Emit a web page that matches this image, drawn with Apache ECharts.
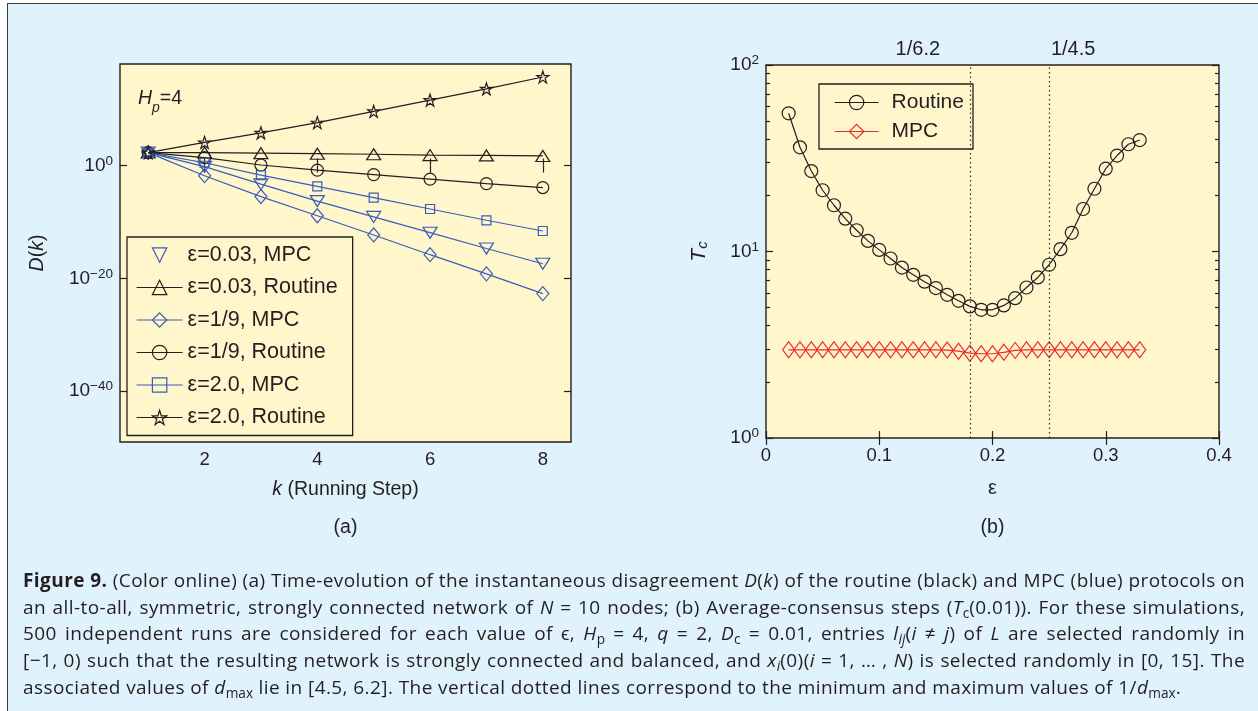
<!DOCTYPE html>
<html><head><meta charset="utf-8">
<script src="https://cdn.jsdelivr.net/npm/echarts@6/dist/echarts.min.js"></script>
<style>
html,body{margin:0;padding:0;width:1258px;height:711px;overflow:hidden;background:#fff;}
#panel{position:absolute;left:7px;top:3px;width:1270px;height:730px;background:#e0f2fb;border-left:1.5px solid #3a3a3a;border-top:1.5px solid #3a3a3a;}
#chart{position:absolute;left:0;top:0;width:1258px;height:711px;}
#caption{position:absolute;left:23px;top:567px;width:1222px;font-family:'Open Sans',sans-serif;font-size:19px;letter-spacing:0.42px;line-height:26.7px;color:#231f20;}
.ln{white-space:nowrap;text-align:justify;text-align-last:justify;}
.ln.last{text-align-last:left;}
sub{font-size:0.72em;line-height:0;vertical-align:-0.3em;letter-spacing:0;}
</style></head>
<body>
<div id="panel"></div>
<div id="chart"></div>
<div id="caption">
<div class="ln"><b>Figure 9.</b> (Color online) (a) Time-evolution of the instantaneous disagreement <i>D</i>(<i>k</i>) of the routine (black) and MPC (blue) protocols on</div>
<div class="ln">an all-to-all, symmetric, strongly connected network of <i>N</i> = 10 nodes; (b) Average-consensus steps (<i>T</i><sub>c</sub>(0.01)). For these simulations,</div>
<div class="ln">500 independent runs are considered for each value of ϵ, <i>H</i><sub>p</sub> = 4, <i>q</i> = 2, <i>D</i><sub>c</sub> = 0.01, entries <i>l</i><sub><i>ij</i></sub>(<i>i</i> ≠ <i>j</i>) of <i>L</i> are selected randomly in</div>
<div class="ln">[−1, 0) such that the resulting network is strongly connected and balanced, and <i>x</i><sub><i>i</i></sub>(0)(<i>i</i> = 1, … , <i>N</i>) is selected randomly in [0, 15]. The</div>
<div class="ln last">associated values of <i>d</i><sub>max</sub> lie in [4.5, 6.2]. The vertical dotted lines correspond to the minimum and maximum values of 1/<i>d</i><sub>max</sub>.</div>
</div>
<script>
// ---------- data: panel (a), exponents of D(k) (log10) ----------
const kSteps = [1, 2, 3, 4, 5, 6, 7, 8];
const logD_e003_MPC = [2.3, -0.2, -3.3, -6.3, -9.1, -11.9, -14.7, -17.4];
const logD_e003_Routine = [2.3, 2.3, 2.2, 2.1, 2.0, 1.85, 1.8, 1.7];
const logD_e19_MPC = [2.3, -1.8, -5.5, -8.9, -12.3, -15.8, -19.2, -22.7];
const logD_e19_Routine = [2.3, 1.4, 0.1, -0.8, -1.6, -2.4, -3.2, -3.9];
const logD_e2_MPC = [2.3, 0.5, -1.7, -3.7, -5.7, -7.7, -9.7, -11.6];
const logD_e2_Routine = [2.3, 4.1, 5.8, 7.6, 9.6, 11.6, 13.6, 15.7];
const leftXTicks = [2, 4, 6, 8];
const leftYTicks = [0, -20, -40];

// ---------- data: panel (b) ----------
const epsValues = [0.02, 0.03, 0.04, 0.05, 0.06, 0.07, 0.08, 0.09, 0.10, 0.11, 0.12, 0.13, 0.14, 0.15, 0.16, 0.17,
  0.18, 0.19, 0.20, 0.21, 0.22, 0.23, 0.24, 0.25, 0.26, 0.27, 0.28, 0.29, 0.30, 0.31, 0.32, 0.33];
const tcRoutine = [55.1, 36.2, 27.0, 21.3, 17.7, 15.0, 13.0, 11.4, 10.2, 9.17, 8.2, 7.5, 6.89, 6.37, 5.86, 5.44,
  5.08, 4.87, 4.87, 5.14, 5.62, 6.41, 7.26, 8.49, 10.3, 12.6, 16.9, 21.7, 27.8, 32.7, 37.6, 39.6];
const tcMPC = [2.97, 2.97, 2.97, 2.97, 2.97, 2.97, 2.97, 2.97, 2.97, 2.97, 2.97, 2.97, 2.97, 2.97, 2.96, 2.92,
  2.85, 2.83, 2.83, 2.88, 2.95, 2.97, 2.97, 2.97, 2.97, 2.97, 2.97, 2.97, 2.97, 2.97, 2.97, 2.97];
const dottedEps = [0.183, 0.252];
const dottedLabels = ['1/6.2', '1/4.5'];
const rightXTicks = [0, 0.1, 0.2, 0.3, 0.4];
const rightYMajor = [1, 10, 100];
const rightYMinor = [2, 3, 4, 5, 6, 7, 8, 9, 20, 30, 40, 50, 60, 70, 80, 90];

// ---------- styling ----------
const BLUE = '#3a5db8', BLACK = '#231f20', RED = '#ee2b2b';
const FONT = 'Liberation Sans';
const STAR = 'path://M0,-1000L224,-309L951,-309L363,118L588,809L0,382L-588,809L-363,118L-951,-309L-224,-309Z';
const leftDefs = [
  {name: 'ε=0.03, MPC', data: logD_e003_MPC, color: BLUE, symbol: 'triangle', size: [14, 11], rotate: 180, noLine: true},
  {name: 'ε=0.03, Routine', data: logD_e003_Routine, color: BLACK, symbol: 'triangle', size: [14, 11], rotate: 0},
  {name: 'ε=1/9, MPC', data: logD_e19_MPC, color: BLUE, symbol: 'diamond', size: [12, 14], rotate: 0},
  {name: 'ε=1/9, Routine', data: logD_e19_Routine, color: BLACK, symbol: 'circle', size: 12, rotate: 0},
  {name: 'ε=2.0, MPC', data: logD_e2_MPC, color: BLUE, symbol: 'rect', size: 9, rotate: 0},
  {name: 'ε=2.0, Routine', data: logD_e2_Routine, color: BLACK, symbol: STAR, size: 12, rotate: 0}
];
const rightDefs = [
  {name: 'Routine', data: tcRoutine, color: BLACK, symbol: 'circle', size: 13},
  {name: 'MPC', data: tcMPC, color: RED, symbol: 'diamond', size: [12, 16]}
];

const TR = 'rgba(0,0,0,0)';
const tickStyle = {color: BLACK, width: 1.2};
const supRich = {
  b: {fontFamily: FONT, fontSize: 19, color: BLACK},
  s: {fontFamily: FONT, fontSize: 13.5, color: BLACK, padding: [0, 0, 9, 0]}
};

function xAx(grid, min, max, pos, ticks, show, extra) {
  return Object.assign({
    gridIndex: grid, type: 'value', min: min, max: max, position: pos,
    axisLine: {show: false}, splitLine: {show: false},
    axisTick: {show: true, inside: true, length: 7, customValues: ticks, lineStyle: tickStyle},
    axisLabel: {show: show, customValues: ticks, margin: 8, fontSize: 18.5, color: BLACK, fontFamily: FONT}
  }, extra || {});
}
function yAx(grid, min, max, pos, ticks, len, labelOpt, extra) {
  return Object.assign({
    gridIndex: grid, type: 'value', min: min, max: max, position: pos,
    axisLine: {show: false}, splitLine: {show: false},
    axisTick: {show: true, inside: true, length: len, customValues: ticks, lineStyle: tickStyle},
    axisLabel: labelOpt ? Object.assign({customValues: ticks, margin: 7, rich: supRich}, labelOpt) : {show: false}
  }, extra || {});
}

const leftFmt = v => '{b|10}{s|' + (v === 0 ? '0' : '−' + Math.abs(v)) + '}';
const rightFmt = v => '{b|10}{s|' + Math.round(v) + '}';
const majorLog = rightYMajor.map(v => Math.log10(v));
const minorLog = rightYMinor.map(v => Math.log10(v));

const series = [];
leftDefs.forEach(d => {
  series.push({
    type: 'line', name: d.name, xAxisIndex: 0, yAxisIndex: 0,
    data: kSteps.map((k, i) => [k, d.data[i]]),
    symbol: d.symbol, symbolSize: d.size, symbolRotate: d.rotate, showAllSymbol: true,
    lineStyle: {color: d.color, width: 1.2},
    itemStyle: {color: TR, borderColor: d.color, borderWidth: 1.2},
    emphasis: {disabled: true}, animation: false
  });
});
rightDefs.forEach((d, idx) => {
  const s = {
    type: 'line', name: d.name, xAxisIndex: 2, yAxisIndex: 2,
    data: epsValues.map((e, i) => [e, Math.log10(d.data[i])]),
    symbol: d.symbol, symbolSize: d.size, showAllSymbol: true,
    lineStyle: {color: d.color, width: 1.2},
    itemStyle: {color: TR, borderColor: d.color, borderWidth: 1.2},
    emphasis: {disabled: true}, animation: false
  };
  if (idx === 0) {
    s.markLine = {
      silent: true, symbol: 'none', animation: false,
      lineStyle: {color: '#333', width: 1.2, type: [1.5, 3]},
      label: {show: true, position: 'end', formatter: '{b}', fontSize: 20, color: BLACK, fontFamily: FONT, distance: 6},
      data: dottedEps.map((x, i) => ({xAxis: x, name: dottedLabels[i], label: {offset: [i === 0 ? -52 : 24, 0]}}))
    };
  }
  series.push(s);
});

const option = {
  animation: false,
  textStyle: {fontFamily: FONT, color: BLACK},
  grid: [
    {left: 120, top: 64, width: 451, height: 378, show: true, backgroundColor: '#fff6cc', borderColor: BLACK, borderWidth: 1.4},
    {left: 766, top: 65, width: 453, height: 373, show: true, backgroundColor: '#fff6cc', borderColor: BLACK, borderWidth: 1.4}
  ],
  xAxis: [
    xAx(0, 0.5, 8.5, 'bottom', leftXTicks, true, {
      name: '{i|k} (Running Step)', nameLocation: 'middle', nameGap: 38,
      nameTextStyle: {fontSize: 19.5, color: BLACK, fontFamily: FONT, rich: {i: {fontStyle: 'italic', fontSize: 19.5, fontFamily: FONT, color: BLACK}}}
    }),
    xAx(0, 0.5, 8.5, 'top', leftXTicks, false),
    xAx(1, 0, 0.4, 'bottom', rightXTicks, true, {
      name: 'ε', nameLocation: 'middle', nameGap: 40,
      nameTextStyle: {fontSize: 20, color: BLACK, fontFamily: FONT},
      axisLabel: {customValues: rightXTicks, margin: 8, fontSize: 18.5, color: BLACK, fontFamily: FONT,
        formatter: v => (v === 0 ? '0' : v.toFixed(1))}
    }),
    xAx(1, 0, 0.4, 'top', rightXTicks, false)
  ],
  yAxis: [
    yAx(0, -49, 18, 'left', leftYTicks, 7, {formatter: leftFmt}, {
      name: '{i|D}({i|k})', nameLocation: 'middle', nameGap: 72,
      nameTextStyle: {fontSize: 19.5, color: BLACK, fontFamily: FONT, rich: {i: {fontStyle: 'italic', fontSize: 19.5, fontFamily: FONT, color: BLACK}}}
    }),
    yAx(0, -49, 18, 'right', leftYTicks, 7, null),
    yAx(1, 0, 2, 'left', majorLog, 7, {formatter: rightFmt}, {
      name: '{t|T}{c|c}', nameLocation: 'middle', nameGap: 50,
      nameTextStyle: {rich: {
        t: {fontStyle: 'italic', fontSize: 21, fontFamily: FONT, color: BLACK, padding: [0, 0, 6, 0]},
        c: {fontStyle: 'italic', fontSize: 15, fontFamily: FONT, color: BLACK}
      }}
    }),
    yAx(1, 0, 2, 'left', minorLog, 4, null),
    yAx(1, 0, 2, 'right', majorLog, 7, null),
    yAx(1, 0, 2, 'right', minorLog, 4, null)
  ],
  legend: [
    {
      orient: 'vertical', left: 127, top: 237, padding: [7, 15, 7, 9],
      itemWidth: 46, itemHeight: 18, itemGap: 10.5,
      backgroundColor: '#fff6cc', borderColor: BLACK, borderWidth: 1.3, borderRadius: 0,
      textStyle: {fontSize: 21.5, color: BLACK, fontFamily: FONT, lineHeight: 20},
      selectedMode: false,
      data: leftDefs.map(d => ({
        name: d.name,
        itemStyle: {color: TR, borderColor: d.color, borderWidth: 1.2},
        lineStyle: {color: d.noLine ? TR : d.color, width: 1.2}
      }))
    },
    {
      orient: 'vertical', left: 819, top: 84, padding: [8, 9, 7, 15],
      itemWidth: 44, itemHeight: 18, itemGap: 8,
      backgroundColor: '#fff6cc', borderColor: BLACK, borderWidth: 1.3, borderRadius: 0,
      textStyle: {fontSize: 21, color: BLACK, fontFamily: FONT, lineHeight: 20, padding: [0, 0, 0, 8]},
      selectedMode: false,
      data: rightDefs.map(d => ({
        name: d.name,
        itemStyle: {color: TR, borderColor: d.color, borderWidth: 1.2},
        lineStyle: {color: d.color, width: 1.2}
      }))
    }
  ],
  graphic: [
    {type: 'text', left: 138, top: 89, style: {text: '{i|H}{p|p}{n|=4}', rich: {
      i: {fontStyle: 'italic', fontSize: 19.5, fontFamily: FONT, fill: BLACK, padding: [0, 0, 6, 0], verticalAlign: 'bottom'},
      p: {fontStyle: 'italic', fontSize: 14, fontFamily: FONT, fill: BLACK, verticalAlign: 'bottom'},
      n: {fontSize: 19.5, fontFamily: FONT, fill: BLACK, padding: [0, 0, 6, 0], verticalAlign: 'bottom'}
    }}},
    {type: 'text', x: 345.5, y: 528, style: {text: '(a)', fontSize: 19.5, fontFamily: FONT, fill: BLACK, align: 'center', verticalAlign: 'middle'}},
    {type: 'text', x: 992.5, y: 528, style: {text: '(b)', fontSize: 19.5, fontFamily: FONT, fill: BLACK, align: 'center', verticalAlign: 'middle'}}
  ],
  series: series
};

const chart = echarts.init(document.getElementById('chart'), null, {renderer: 'canvas'});
chart.setOption(option);
</script>
</body></html>
